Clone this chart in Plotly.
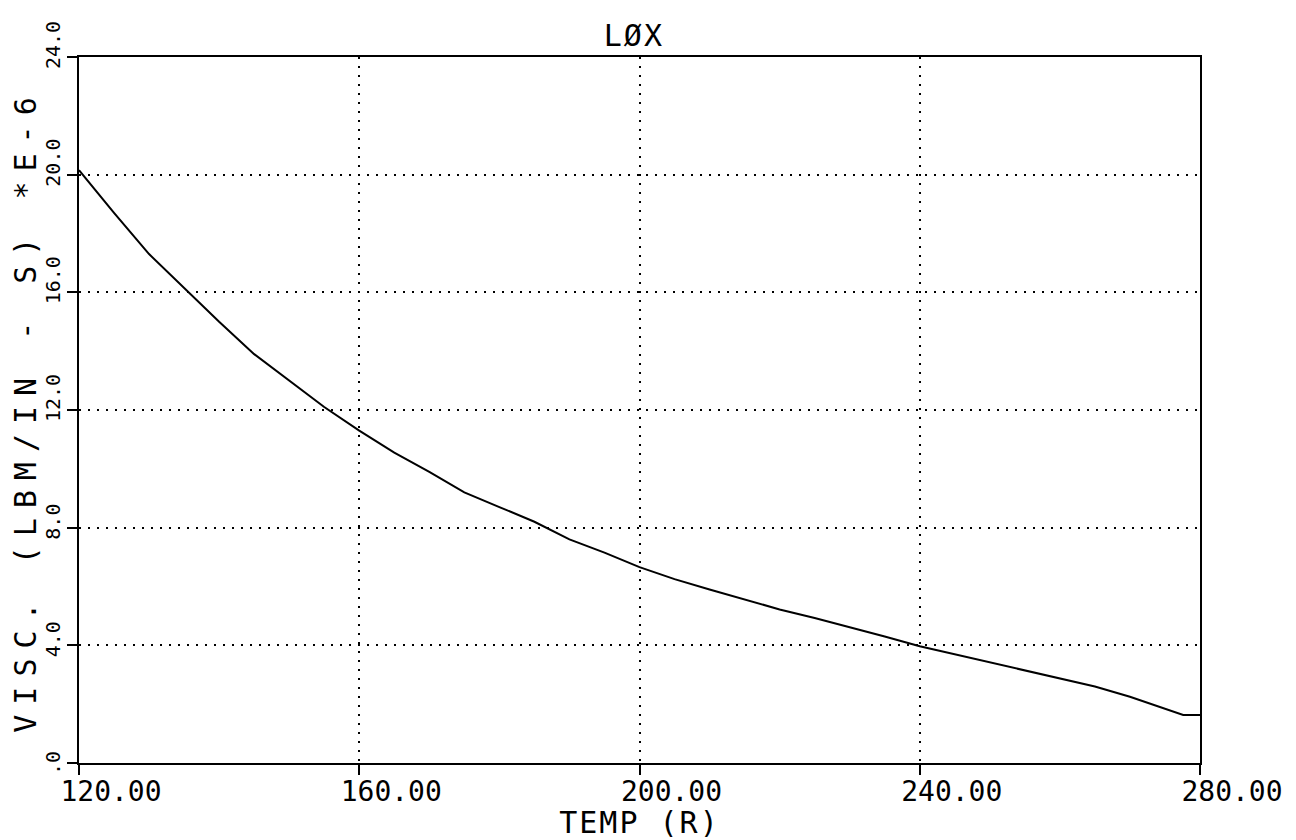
import plotly.graph_objects as go

# Data
temp_r = [120, 125, 130, 135, 140, 145, 150, 155, 160, 165, 170, 175, 180, 185,
          190, 195, 200, 205, 210, 215, 220, 225, 230, 235, 240, 245, 250, 255,
          260, 265, 270, 275, 277.6, 280]
visc = [20.15, 18.7, 17.3, 16.15, 15.0, 13.9, 13.0, 12.1, 11.3, 10.55, 9.9, 9.2,
        8.7, 8.2, 7.6, 7.15, 6.66, 6.25, 5.9, 5.57, 5.22, 4.93, 4.62, 4.3, 3.97,
        3.7, 3.43, 3.15, 2.88, 2.6, 2.25, 1.85, 1.63, 1.63]

x_tickvals = [120, 160, 200, 240, 280]
x_ticktext = ["120.00", "160.00", "200.00", "240.00", "280.00"]
y_tickvals = [0, 4, 8, 12, 16, 20, 24]
y_ticktext = [".0", "4.0", "8.0", "12.0", "16.0", "20.0", "24.0"]

FONT = "DejaVu Sans Mono"

fig = go.Figure()
fig.add_trace(go.Scatter(x=temp_r, y=visc, mode="lines",
                         line=dict(color="black", width=2),
                         showlegend=False, hoverinfo="skip"))

# page body adds an 8px offset, so the figure is 8px smaller
fig.update_layout(
    width=1288, height=832,
    paper_bgcolor="white", plot_bgcolor="white",
    margin=dict(l=71, r=96, t=49, b=77),
    title=dict(text='<span style="letter-spacing:2px">LØX</span>',
               font=dict(family=FONT, size=30, color="black"),
               x=0.495, xanchor="center", xref="paper",
               y=1 - 27 / 832, yanchor="middle", yref="container"),
    showlegend=False,
)

fig.update_xaxes(
    range=[120, 280], tickmode="array", tickvals=x_tickvals, ticktext=x_ticktext,
    tickfont=dict(family=FONT, size=28, color="black"),
    ticks="outside", ticklen=10, tickwidth=1.5, tickcolor="black",
    ticklabelshift=32, ticklabelstandoff=-8,
    showline=True, linecolor="black", linewidth=2, mirror=True,
    showgrid=True, gridcolor="black", gridwidth=1.5, griddash="1.5px,7.5px",
    zeroline=False, automargin=False,
    title=dict(text='<span style="letter-spacing:2px">TEMP (R)</span>',
               font=dict(family=FONT, size=30, color="black"), standoff=3),
)

fig.update_yaxes(
    range=[0, 24], tickmode="array", tickvals=y_tickvals,
    showticklabels=False,
    ticks="outside", ticklen=10, tickwidth=1.5, tickcolor="black",
    showline=True, linecolor="black", linewidth=2, mirror=True,
    showgrid=True, gridcolor="black", gridwidth=1.5, griddash="1.5px,7.5px",
    zeroline=False, automargin=False,
    title=dict(text='<span style="letter-spacing:10px">VISC. (LBM/IN - S) *E-6</span>',
               font=dict(family=FONT, size=30, color="black"), standoff=42),
)

# rotated y tick labels, each starting at its tick and reading upward
for val, txt in zip(y_tickvals, y_ticktext):
    fig.add_annotation(
        x=0, xref="paper", xanchor="right", xshift=-12,
        y=val, yref="y", yanchor="bottom", yshift=-14,
        text=txt, textangle=-90, showarrow=False,
        font=dict(family=FONT, size=20, color="black"),
    )

fig.write_html("out.html")
